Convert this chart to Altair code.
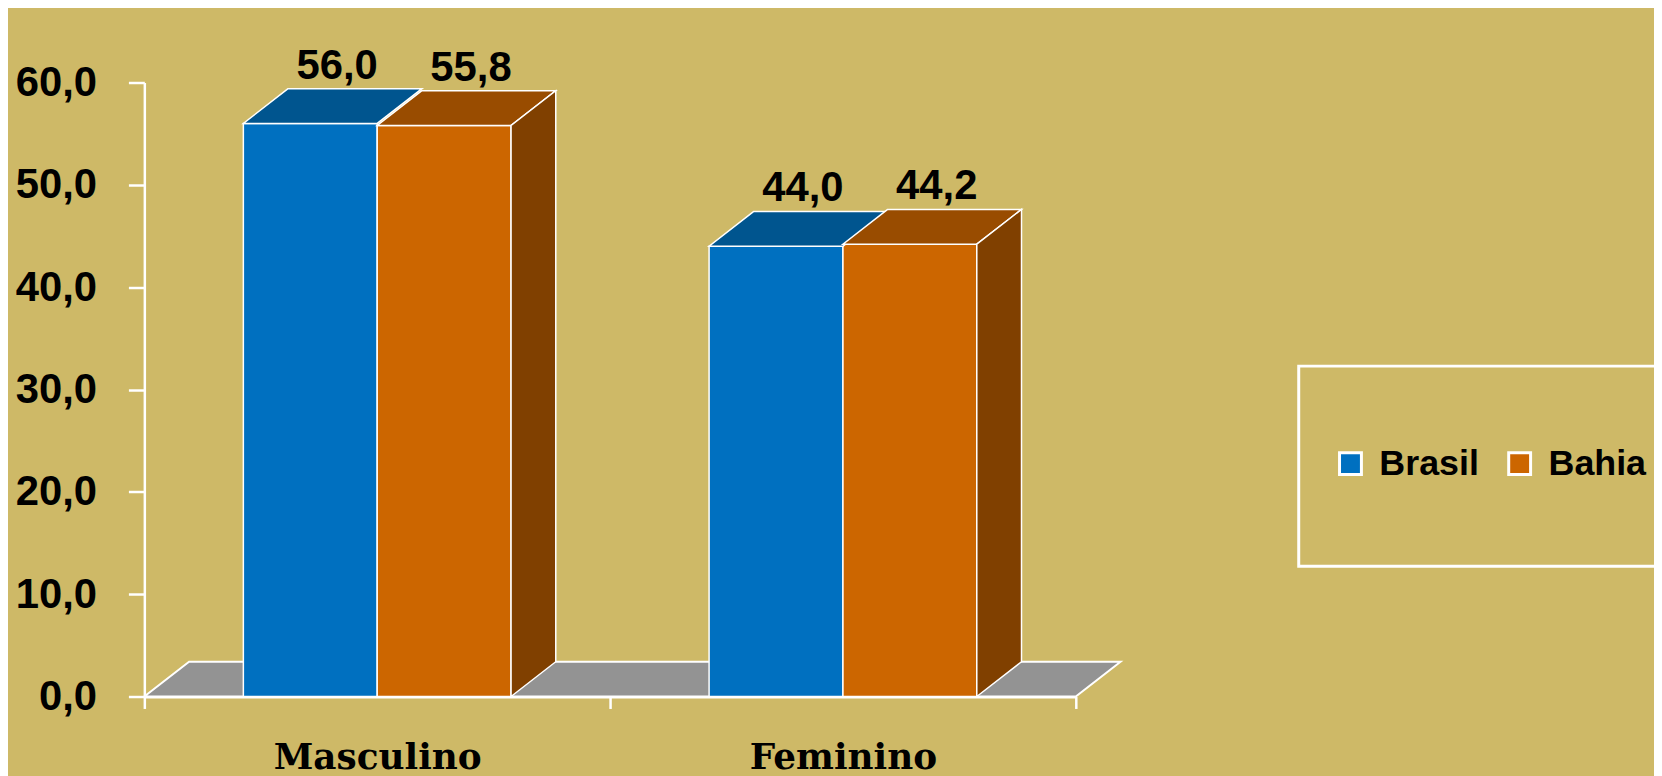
import altair as alt
import pandas as pd

# ---- data ----
categories = ["Masculino", "Feminino"]
series = ["Brasil", "Bahia"]
brasil = [56.0, 44.0]
bahia = [55.8, 44.2]
y_ticks = [0, 10, 20, 30, 40, 50, 60]

# ---- styles ----
front_colors = ["#0070C0", "#CC6600"]
top_colors = ["#00558F", "#994C00"]
side_color = "#804000"
floor_color = "#939393"
bg = "#CEB967"
narrow = "Liberation Sans Narrow, Arial Narrow, Liberation Sans, Arial, sans-serif"
serif = "DejaVu Serif, serif"

W, H = 936, 617
BW = 0.2874   # bar width (category units)
DX = 0.096    # 3-D depth along x (category units)
DY = 3.4      # 3-D depth along y (value units)

values = {"Brasil": brasil, "Bahia": bahia}
front_rows, top_rows, side_rows, label_rows = [], [], [], []
for i, cat in enumerate(categories):
    for j, s in enumerate(series):
        v = values[s][i]
        x0 = i + 0.5 - BW + j * BW
        x1 = x0 + BW
        bid = f"{cat}-{s}"
        front_rows.append(dict(bid=bid, serie=s, x0=x0, x1=x1, v=v, base=0))
        top_rows += [dict(bid=bid, y=v, xa=x0, xb=x1, c=top_colors[j]),
                     dict(bid=bid, y=v + DY, xa=x0 + DX, xb=x1 + DX, c=top_colors[j])]
        if j == len(series) - 1:
            side_rows += [dict(bid=bid, x=x1, ylo=0, yhi=v),
                          dict(bid=bid, x=x1 + DX, ylo=DY, yhi=v + DY)]
        label_rows.append(dict(xc=(x0 + x1) / 2, y=v + DY,
                               txt=f"{v:.1f}".replace(".", ",")))
n = len(categories)
floor_rows = [dict(y=0, xa=0, xb=n), dict(y=DY, xa=DX, xb=n + DX)]

xscale = alt.Scale(domain=[0, n], nice=False, zero=False)
yscale = alt.Scale(domain=[y_ticks[0], y_ticks[-1]], nice=False)

cat_expr = " : ".join(f"datum.value == {i} ? '{c}'" for i, c in enumerate(categories)) + " : ''"

xaxis = alt.Axis(values=list(range(n + 1)), labelExpr=cat_expr, labelOffset=W / n / 2,
                 labelFlush=False, labelOverlap=False, labelBound=False, labelLimit=0,
                 labelFont=serif, labelFontSize=36, labelFontWeight="bold",
                 labelColor="black", labelBaseline="alphabetic", labelPadding=60,
                 domainColor="white", domainWidth=3, tickColor="white", tickWidth=2.5,
                 tickSize=12, grid=False, title=None)
yaxis = alt.Axis(values=y_ticks, labelExpr="replace(format(datum.value, '.1f'), '.', ',')",
                 labelFont=narrow, labelFontSize=42, labelFontWeight="bold",
                 labelColor="black", labelPadding=32, labelFlush=False, labelLimit=0,
                 labelOverlap=False, labelBound=False,
                 tickSize=16, tickColor="white", tickWidth=2.5,
                 domainColor="white", domainWidth=2.5, grid=False, title=None)

floor = alt.Chart(pd.DataFrame(floor_rows)).mark_area(
    orient="horizontal", color=floor_color, stroke="white", strokeWidth=2, opacity=1
).encode(
    y=alt.Y("y:Q", scale=yscale, axis=yaxis, stack=None),
    x=alt.X("xa:Q", scale=xscale, axis=xaxis, stack=None),
    x2="xb:Q",
)

front = alt.Chart(pd.DataFrame(front_rows)).mark_rect(stroke="white", strokeWidth=1.5).encode(
    x=alt.X("x0:Q", scale=xscale, axis=xaxis),
    x2="x1:Q",
    y=alt.Y("v:Q", scale=yscale, axis=yaxis),
    y2="base:Q",
    color=alt.Color("serie:N", scale=alt.Scale(domain=series, range=front_colors),
                    legend=alt.Legend(orient="none", legendX=1194, legendY=365,
                                      direction="horizontal", title=None,
                                      symbolType="square", symbolSize=484,
                                      symbolStrokeColor="white", symbolStrokeWidth=3,
                                      symbolOpacity=1, labelFont=narrow,
                                      labelFontSize=36, labelFontWeight="bold",
                                      labelColor="black", labelOffset=11, labelLimit=0,
                                      columnPadding=22, padding=0)),
)

top = alt.Chart(pd.DataFrame(top_rows)).mark_area(
    orient="horizontal", stroke="white", strokeWidth=1.5, opacity=1
).encode(
    y=alt.Y("y:Q", scale=yscale, axis=yaxis, stack=None),
    x=alt.X("xa:Q", scale=xscale, axis=xaxis, stack=None),
    x2="xb:Q",
    detail="bid:N",
    fill=alt.Fill("c:N", scale=None),
)

side = alt.Chart(pd.DataFrame(side_rows)).mark_area(
    orient="vertical", color=side_color, stroke="white", strokeWidth=1.5, opacity=1
).encode(
    x=alt.X("x:Q", scale=xscale, axis=xaxis, stack=None),
    y=alt.Y("ylo:Q", scale=yscale, axis=yaxis, stack=None),
    y2="yhi:Q",
    detail="bid:N",
)

labels = alt.Chart(pd.DataFrame(label_rows)).mark_text(
    font=narrow, fontSize=42, fontWeight="bold", color="black",
    baseline="alphabetic", align="center", dx=27, dy=-10
).encode(
    x=alt.X("xc:Q", scale=xscale, axis=xaxis),
    y=alt.Y("y:Q", scale=yscale, axis=yaxis),
    text="txt:N",
)

box = alt.Chart(pd.DataFrame({"k": [0]})).mark_rect(
    fillOpacity=0, stroke="white", strokeWidth=3
).encode(
    x=alt.value(1160), x2=alt.value(1700), y=alt.value(285), y2=alt.value(486)
)

chart = alt.layer(floor, front, top, side, labels, box).properties(
    width=W, height=H,
    padding={"left": 137, "top": 73, "right": 581, "bottom": 78},
    autosize=alt.AutoSizeParams(type="none"),
).configure(background=bg).configure_view(stroke=None)

chart.save("out.html", embed_options={"renderer": "svg", "actions": False})
